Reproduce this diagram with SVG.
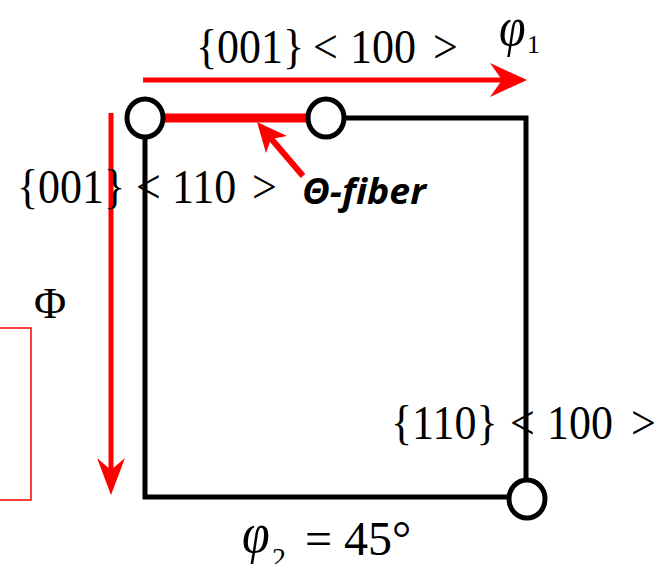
<svg xmlns="http://www.w3.org/2000/svg" width="668" height="564" viewBox="0 0 668 564">
<style>
.m{font-family:"Liberation Serif","Times New Roman",serif;fill:#000}
.it{font-style:italic}
.blk{fill:none;stroke:#000;stroke-width:5}
.red{fill:none;stroke:#ff0000}
.rf{fill:#ff0000;stroke:none}
.node{fill:#fff;stroke:#000;stroke-width:5}
.lbl{font-family:"Open Sans","Liberation Sans",sans-serif;font-weight:bold;font-style:italic;font-size:35px;fill:#000}
</style>
<rect width="668" height="564" fill="#fff"/>
<g id="frame">
<path class="blk" d="M326,118 H526 V499 M145,118 V497 H527"/>
<rect class="red" x="-2" y="328" width="33" height="172" stroke-width="1.5"/>
</g>
<g id="connectors">
<line class="red" x1="163" y1="118" x2="308" y2="118" stroke-width="9"/>
<line class="red" x1="143" y1="80" x2="505" y2="80" stroke-width="5"/>
<path class="rf" d="M527,80 L490,63 L502,80 L490,97 Z"/>
<line class="red" x1="111" y1="113" x2="111" y2="475" stroke-width="5"/>
<path class="rf" d="M111,495 L97,458 L111,470 L125,458 Z"/>
<line class="red" x1="303" y1="176" x2="268" y2="135" stroke-width="6"/>
<path class="rf" d="M257,122 L287,136 L271,139 L266,153 Z"/>
</g>
<g id="node-001-110"><ellipse class="node" cx="145" cy="118" rx="18" ry="19"/></g>
<g id="node-theta-end"><ellipse class="node" cx="326" cy="118" rx="18" ry="19"/></g>
<g id="node-110-100"><ellipse class="node" cx="527" cy="499" rx="18" ry="19"/></g>
<g id="labels">
<text class="m" font-size="44" transform="translate(0,63) scale(1,1.1)"><tspan x="196" y="0">{001}</tspan><tspan x="313">&lt;</tspan><tspan x="350">100</tspan><tspan x="433">&gt;</tspan></text>
<text class="m it" font-size="48" transform="translate(0,45) scale(1,1.15)"><tspan x="499" y="0">φ</tspan></text>
<text class="m" x="527" y="53" font-size="26">1</text>
<text class="m" font-size="44" transform="translate(0,203) scale(1,1.1)"><tspan x="17" y="0">{001}</tspan><tspan x="136">&lt;</tspan><tspan x="172">110</tspan><tspan x="252">&gt;</tspan></text>
<text class="lbl" x="302" y="204" textLength="124" lengthAdjust="spacingAndGlyphs">Θ-fiber</text>
<text class="m" x="34" y="318" font-size="44">Φ</text>
<text class="m" font-size="44" transform="translate(0,439) scale(1,1.1)"><tspan x="391" y="0">{110}</tspan><tspan x="510">&lt;</tspan><tspan x="547">100</tspan><tspan x="631">&gt;</tspan></text>
<text class="m it" font-size="50" transform="translate(0,552) scale(1,1.15)"><tspan x="242" y="0">φ</tspan></text>
<text class="m" x="272" y="567" font-size="28">2</text>
<text class="m" x="305" y="555" font-size="48">= 45°</text>
</g>
</svg>
